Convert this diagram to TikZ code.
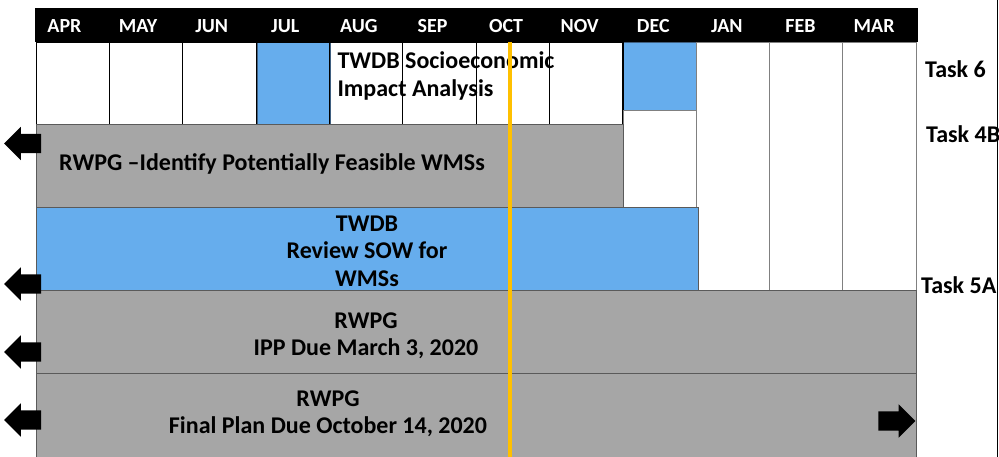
\documentclass[tikz,border=0pt]{standalone}
\usepackage{fontspec}
\setmainfont{Carlito}
\usetikzlibrary{positioning, shapes.arrows}
\definecolor{G1}{HTML}{A6A6A6}
\definecolor{G2}{HTML}{5A5A5A}
\definecolor{B1}{HTML}{66ADED}
\definecolor{B2}{HTML}{3F5F80}
\definecolor{Y1}{HTML}{FFC000}

\begin{document}
\begin{tikzpicture}[
	x = 1pt, y = -1pt,
	month/.style = {text=white, inner sep=0pt, font=\bfseries\fontsize{20}{20}\selectfont},
	bartext/.style = {align=center, inner sep=0pt, font=\bfseries\fontsize{24}{27.5}\selectfont},
	tasklabel/.style = {anchor=west, inner sep=0pt, font=\bfseries\fontsize{24}{24}\selectfont},
	larrow/.style = {single arrow, fill=black, inner xsep=0pt, inner ysep=9.5pt, minimum height=37pt, single arrow head extend=7pt, shape border rotate=180},
	rarrow/.style = {larrow, shape border rotate=0},
	cell/.style = {draw=black, thin},
	lowcell/.style = {draw=gray, thin},
	bar/.style = {draw=G2, thin}
]
  \useasboundingbox (0,0) rectangle (999,457);
  \fill[white] (0,0) rectangle (999,457);

  % Header
  \fill[black] (35,8) rectangle (918,42);
  \foreach \m [count=\i from 0] in {APR,MAY,JUN,JUL,AUG,SEP,OCT,NOV,DEC,JAN,FEB,MAR}
    \node[month] (m\i) at ({64.5+73.6*\i},26) {\m};

  % Task 6 row
  \filldraw[fill=B1, draw=B2] (257,42) rectangle (330,124);
  \filldraw[fill=B1, draw=B2] (623,42) rectangle (696,110);
  \node[bartext, align=left, font=\bfseries\fontsize{24}{28}\selectfont] (socio) at (446,76) {TWDB Socioeconomic\\Impact Analysis};
  \foreach \i in {0,...,7}
    \draw[cell] ({36+73.33*\i},42) rectangle ++(73.33,82);
  \draw[cell] (623,42) -- (623,110);
  \draw[lowcell] (623,110) rectangle (696,207);
  \foreach \i in {9,10,11}
    \draw[lowcell] ({36+73.33*\i},42) rectangle ++(73.33,248);

  % Bars
  \filldraw[fill=G1, bar] (36,124) rectangle (623,207);
  \filldraw[fill=B1, bar] (36,207) rectangle (698,290);
  \filldraw[fill=G1, bar] (36,290) rectangle (916,373);
  \filldraw[fill=G1, bar] (36,373) rectangle (916,459);

  \node[bartext] (identify) at (272,164) {RWPG --Identify Potentially Feasible WMSs};
  \node[bartext] (review) at (367,251) {TWDB\\Review SOW for\\WMSs};
  \node[bartext] (ipp) at (366,336) {RWPG\\IPP Due March 3, 2020};
  \node[bartext] (final) at (328,414) {RWPG\\Final Plan Due October 14, 2020};

  % Today line
  \draw[Y1, line width=4pt] (510,42) -- (510,457);

  % Task labels
  \node[tasklabel] (t6) at (925,69) {Task 6};
  \node[tasklabel] (t4b) at (926,134) {Task 4B};
  \node[tasklabel] (t5a) at (921,285) {Task 5A};
  \draw[black, thin] (997.5,0) -- (997.5,457);

  % Arrows
  \node[larrow] (a1) at (27.5,143.5) {};
  \node[larrow] (a2) at (27.5,284) {};
  \node[larrow] (a3) at (27.5,352) {};
  \node[larrow] (a4) at (27.5,420) {};
  \node[rarrow] (a5) at (892,421) {};
\end{tikzpicture}
\end{document}
